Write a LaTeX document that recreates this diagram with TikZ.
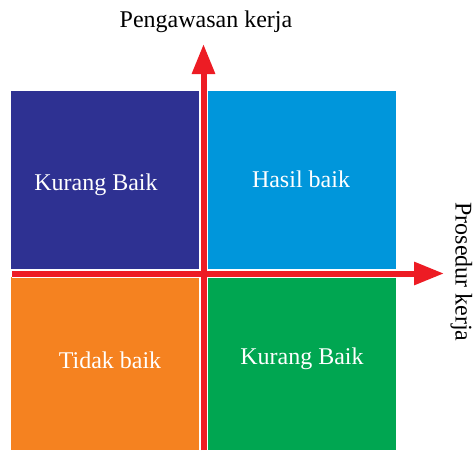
\documentclass[tikz,border=0pt]{standalone}
\usepackage{fontspec}
\setmainfont{Liberation Serif}
\usetikzlibrary{arrows.meta}
\definecolor{quadpurple}{HTML}{2E3192}
\definecolor{quadblue}{HTML}{0096DB}
\definecolor{quadorange}{HTML}{F58220}
\definecolor{quadgreen}{HTML}{00A651}
\definecolor{axisred}{HTML}{ED1C24}
\tikzset{
  quad/.style={draw=none, inner sep=0pt},
  quadlabel/.style={text=white, font=\fontsize{24}{28}\selectfont},
  axislabel/.style={text=black, font=\fontsize{24}{28}\selectfont},
  axishalo/.style={white, line width=8pt},
  axisline/.style={axisred, line width=6pt,
    -{Triangle[length=30pt, width=22pt]}},
}
\begin{document}
\begin{tikzpicture}[x=1pt, y=-1pt]
  \useasboundingbox (0,0) rectangle (474,450);
  % quadrants
  \fill[quadpurple] (11,91) rectangle (199,269);
  \fill[quadblue]   (208,91) rectangle (396,269);
  \fill[quadorange] (11,277) rectangle (199,450);
  \fill[quadgreen]  (208,277) rectangle (396,450);
  % quadrant labels
  \node[quadlabel] (kb1) at (96,185) {Kurang Baik};
  \node[quadlabel] (hb)  at (301,179) {Hasil baik};
  \node[quadlabel] (tb)  at (110,360) {Tidak baik};
  \node[quadlabel] (kb2) at (302,359) {Kurang Baik};
  % axis end points
  \coordinate (vstart) at (203.5,450);
  \coordinate (vend)   at (203.5,44);
  \coordinate (hstart) at (12,273.5);
  \coordinate (hend)   at (444,273.5);
  % axes
  \draw[axishalo] (hstart) -- ([xshift=-28pt]hend);
  \draw[axishalo] (vstart) -- ([yshift=28pt]vend);
  \draw[axisline] (hstart) -- (hend);
  \draw[axisline] (vstart) -- (vend);
  % axis titles
  \node[axislabel] (ytitle) at (206,22) {Pengawasan kerja};
  \node[axislabel, rotate=-90, inner sep=0pt] (xtitle) at (461.5,272) {Prosedur kerja};
\end{tikzpicture}
\end{document}
